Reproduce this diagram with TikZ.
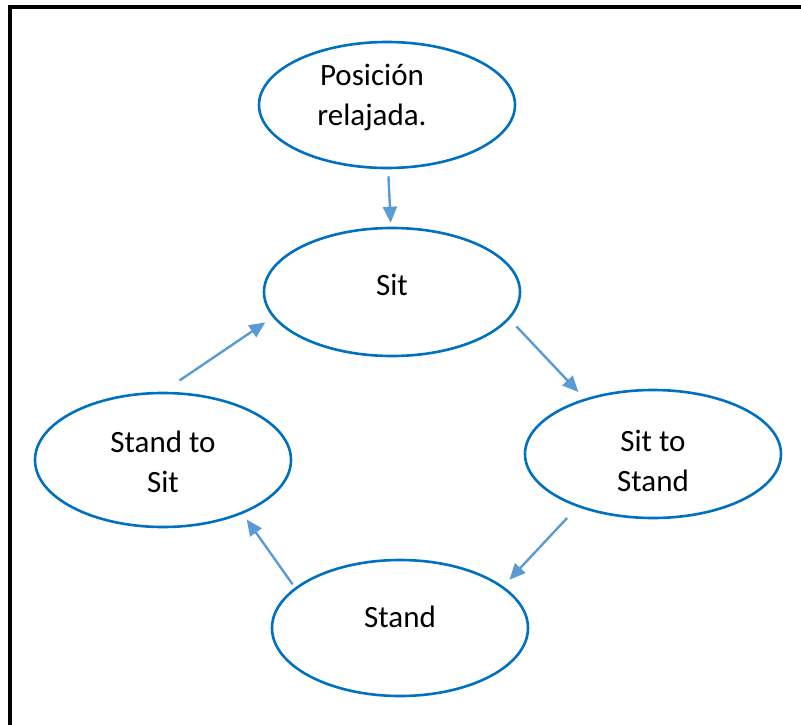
\documentclass[tikz,border=0pt]{standalone}
\usepackage{fontspec}
\setmainfont{Carlito}
\usetikzlibrary{arrows.meta, shapes.geometric}
\definecolor{ringblue}{HTML}{0070C0}
\definecolor{arrowblue}{HTML}{5B9BD5}

\begin{document}
\begin{tikzpicture}[x=1pt, y=-1pt,
  state/.style={draw=ringblue, line width=2.6pt, ellipse, minimum width=256pt, minimum height=128pt, inner sep=0pt},
  every label/.style={font=\fontsize{31}{40}\selectfont, align=center, inner sep=0pt},
  flow/.style={draw=arrowblue, line width=2.4pt, -{Triangle[length=16pt,width=14pt]}}]
\useasboundingbox (0,0) rectangle (801,725);
\draw[line width=3.2pt] (10,725) -- (10,7) -- (801,7);
\node[state, minimum height=126pt, label={[xshift=-15pt, yshift=8pt]center:{Posición\\relajada.}}] (Relax) at (387,105) {};
\node[state, label={[yshift=7pt]center:{Sit}}] (Sit) at (392,292) {};
\node[state, label={[yshift=-7pt]center:{Sit to\\Stand}}] (SitStand) at (653,454) {};
\node[state, minimum height=136pt, label={[yshift=11pt]center:{Stand}}] (Stand) at (400,628) {};
\node[state, minimum height=134pt, label={[yshift=-2pt]center:{Stand to\\Sit}}] (StandSit) at (163,460) {};
\draw[flow, shorten <=7pt, shorten >=4pt] (Relax.-89) -- (Sit.91);
\draw[flow, shorten <=10pt, shorten >=9pt] (Sit.-13) -- (SitStand.141);
\draw[flow, shorten <=15pt, shorten >=9pt] (SitStand.-145) -- (Stand.22);
\draw[flow, shorten <=4pt, shorten >=7pt] (Stand.159) -- (StandSit.-34);
\draw[flow, shorten <=20pt, shorten >=9pt] (StandSit.90) -- (Sit.-168);
\end{tikzpicture}
\end{document}
